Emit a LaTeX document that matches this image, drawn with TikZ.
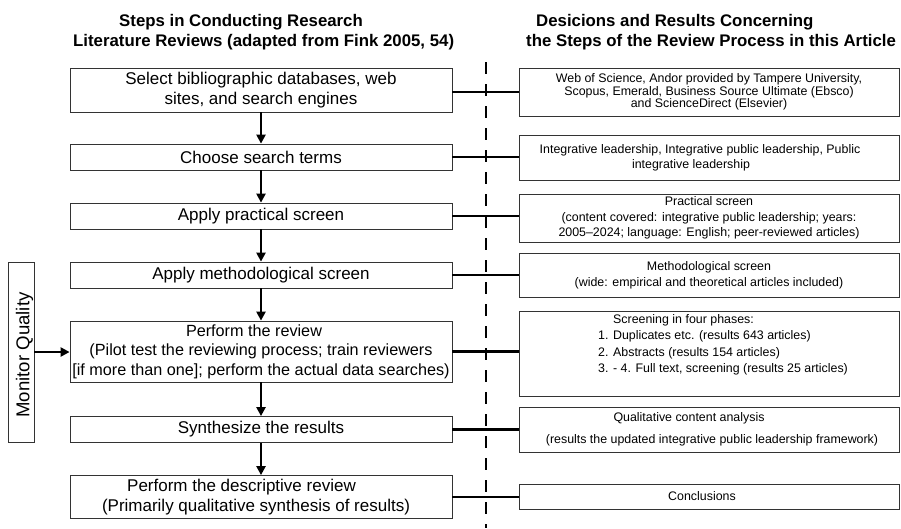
\documentclass[tikz,border=0pt]{standalone}
\usepackage{fontspec}
\setmainfont{Liberation Sans}
\usetikzlibrary{arrows.meta}
\begin{document}
\begin{tikzpicture}[x=1pt,y=-1pt,
  lbox/.style={draw=black!80, line width=0.8pt, minimum width=382pt, inner sep=0pt, align=center, font=\fontsize{17}{20}\selectfont},
  rbox/.style={draw=black!80, line width=0.8pt, minimum width=380pt, inner sep=0pt, align=center, font=\fontsize{12.4}{12.6}\selectfont},
  arr/.style={line width=2.5pt, -{Triangle[length=9pt,width=9pt]}},
  conn/.style={line width=2.5pt},
  dashline/.style={line width=2.8pt, dash pattern=on 12pt off 10pt},
  head/.style={font=\fontsize{16.8}{20}\selectfont\bfseries, anchor=base west, inner sep=0pt}]
\useasboundingbox (0,0) rectangle (901,528);

% headers
\node[head] (h1) at (119,26) {Steps in Conducting Research};
\node[head] (h2) at (73,46.7) {Literature Reviews (adapted from Fink 2005, 54)};
\node[head] (h3) at (536,26) {Desicions and Results Concerning};
\node[head] (h4) at (526,46.7) {the Steps of the Review Process in this Article};

% dashed divider
\coordinate (dtop) at (486,62);
\coordinate (dbot) at (486,528);
\draw[dashline] (dtop) -- (dbot);

% left column
\node[lbox, minimum height=44pt] (l1) at (261,90) {Select bibliographic databases, web\\sites, and search engines};
\node[lbox, minimum height=26pt] (l2) at (261,157) {Choose search terms};
\node[lbox, minimum height=26pt] (l3) at (261,216) {Apply practical screen};
\node[lbox, minimum height=26pt] (l4) at (261,275) {Apply methodological screen};
\node[lbox, minimum height=61pt, font=\fontsize{16.2}{19.5}\selectfont] (l5) at (261,351.5) {Perform the review\hspace*{14pt}\\(Pilot test the reviewing process; train reviewers\\{[}if more than one]; perform the actual data searches)};
\node[lbox, minimum height=26pt] (l6) at (261,429.5) {Synthesize the results};
\node[lbox, minimum height=43pt] (l7) at (261,497) {Perform the descriptive review\hspace*{39pt}\\(Primarily qualitative synthesis of results)\hspace*{10pt}};

% right column
\node[rbox, minimum height=48pt] (r1) at (709,92) {Web of Science, Andor provided by Tampere University,\\Scopus, Emerald, Business Source Ultimate (Ebsco)\\and ScienceDirect (Elsevier)};
\node[rbox, minimum height=45pt, font=\fontsize{12.4}{15}\selectfont] (r2) at (709,157.5) {Integrative leadership, Integrative public leadership, Public\hspace*{18pt}\\integrative leadership\hspace*{36pt}};
\node[rbox, minimum height=48pt, font=\fontsize{12.4}{15.5}\selectfont] (r3) at (709,218) {Practical screen\\(content covered: integrative public leadership; years:\\2005--2024; language: English; peer-reviewed articles)};
\node[rbox, minimum height=44pt, font=\fontsize{12.4}{16}\selectfont] (r4) at (709,275) {Methodological screen\\(wide: empirical and theoretical articles included)};
\node[rbox, minimum height=85pt] (r5) at (709,353.5) {};
\node[anchor=north west, inner sep=0pt, align=left, font=\fontsize{12.4}{16.3}\selectfont] (r5t) at (598,314.5) {\hspace*{15pt}Screening in four phases:\\1. Duplicates etc. (results 643 articles)\\2. Abstracts (results 154 articles)\\3. - 4. Full text, screening (results 25 articles)};
\node[rbox, minimum height=45pt, font=\fontsize{12.4}{22}\selectfont] (r6) at (709,429.5) {Qualitative content analysis\hspace*{40pt}\\\hspace*{6pt}(results the updated integrative public leadership framework)};
\node[rbox, minimum height=25pt] (r7) at (709,496.5) {Conclusions\hspace*{14pt}};

% monitor quality
\node[draw=black!80, line width=0.8pt, minimum width=26pt, minimum height=180pt, inner sep=0pt] (mq) at (21,352) {};
\node[rotate=90, inner sep=0pt, font=\fontsize{18.6}{20}\selectfont] (mqt) at (24.5,355) {Monitor Quality};

% arrows
\draw[arr] (l1.south) -- (l2.north);
\draw[arr] (l2.south) -- (l3.north);
\draw[arr] (l3.south) -- (l4.north);
\draw[arr] (l4.south) -- (l5.north);
\draw[arr] (l5.south) -- (l6.north);
\draw[arr] (l6.south) -- (l7.north);
\draw[arr] (mq.east) -- (mq.east -| l5.west);

% connectors
\draw[conn] ([yshift=-2pt]l1.east) -- ([yshift=-2pt]l1.east -| r1.west);
\draw[conn] (l2.east) -- (l2.east -| r2.west);
\draw[conn] (l3.east) -- (l3.east -| r3.west);
\draw[conn] (l4.east) -- (l4.east -| r4.west);
\draw[conn] (l5.east) -- (l5.east -| r5.west);
\draw[conn] (l6.east) -- (l6.east -| r6.west);
\draw[conn] (l7.east) -- (l7.east -| r7.west);
\end{tikzpicture}
\end{document}
